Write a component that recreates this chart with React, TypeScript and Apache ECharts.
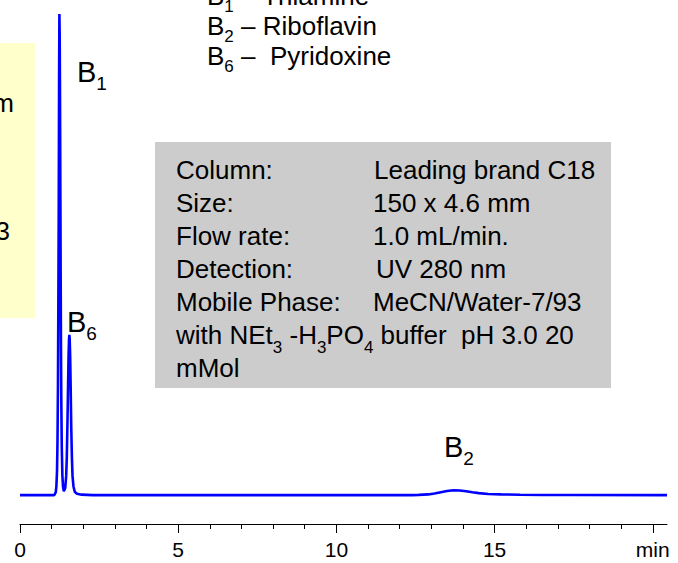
import React, { useEffect, useRef } from "react";
import * as echarts from "echarts";

// Chromatogram trace (time in min, detector signal, B1 peak = 100)
const timeMin = [
  0, 1.08, 1.1, 1.13, 1.15, 1.17, 1.185, 1.2, 1.215, 1.225, 1.235, 1.245, 1.255, 1.265, 1.275,
  1.285, 1.295, 1.305, 1.32, 1.34, 1.36, 1.385, 1.4, 1.43, 1.46, 1.48, 1.5, 1.52, 1.535, 1.55,
  1.56, 1.57, 1.585, 1.6, 1.62, 1.64, 1.66, 1.69, 1.73, 1.8, 1.95, 2.3, 12.4, 12.6, 12.9, 13.1,
  13.3, 13.5, 13.7, 13.9, 14.1, 14.3, 14.5, 14.8, 15.2, 15.8, 16.5, 17.5, 20.45,
];
const signal = [
  0, 0, 0.2, 0.6, 1.8, 5, 11, 23, 44, 60, 85, 100, 95, 82, 64,
  46, 31, 20, 10, 4, 1.8, 0.8, 0.7, 1.5, 4, 8, 15, 23, 29, 32.5,
  33.3, 32.5, 29, 23, 14, 8, 4, 1.8, 0.7, 0.3, 0.1, 0, 0, 0.05, 0.15, 0.35,
  0.6, 0.85, 1.0, 0.95, 0.8, 0.6, 0.42, 0.25, 0.15, 0.08, 0.04, 0.02, 0,
];
const majorTicks = [0, 5, 10, 15, 20];
const minorTicks = [1, 2, 3, 4, 6, 7, 8, 9, 11, 12, 13, 14, 16, 17, 18, 19];
const tickLabels = ["0", "5", "10", "15", "min"];

const legendLines = [
  { sym: "B", sub: "1", name: " – Thiamine" },
  { sym: "B", sub: "2", name: " – Riboflavin" },
  { sym: "B", sub: "6", name: " –  Pyridoxine" },
];
const conditionLabels = ["Column:", "Size:", "Flow rate:", "Detection:", "Mobile Phase:"];
const conditionValues = ["Leading brand C18", "150 x 4.6 mm", "1.0 mL/min.", "UV 280 nm", "MeCN/Water-7/93"];

const FONT = "'Liberation Sans', Arial, Helvetica, sans-serif";

export default function App() {
  const ref = useRef<HTMLDivElement>(null);
  useEffect(() => {
    if (!ref.current) return;
    const chart = echarts.init(ref.current, undefined, { renderer: "svg" });
    const data = timeMin.map((t, i) => [t, signal[i]]);

    const richBase = (mainSize: number, subSize: number, pad: number) => ({
      m: { fontSize: mainSize, fontFamily: FONT, fill: "#000" },
      s: { fontSize: subSize, fontFamily: FONT, fill: "#000", padding: [pad, 0, 0, 0] },
    });

    const legendCenters = [-4, 26, 56];
    const legendTexts = legendLines.map((l, i) => ({
      type: "text",
      x: 207,
      y: legendCenters[i],
      style: {
        text: `{m|${l.sym}}{s|${l.sub}}{m|${l.name}}`,
        rich: richBase(26, 17, 20),
        fill: "#000",
        verticalAlign: "middle",
        align: "left",
      },
    }));

    const rowCenters = [170, 203, 236, 269, 302, 335, 368];
    const valueX = [374, 373, 373, 376, 373];
    const condLabelTexts = conditionLabels.map((t, i) => ({
      type: "text",
      x: 176,
      y: rowCenters[i],
      style: { text: t, fontSize: 26, fontFamily: FONT, fill: "#000", verticalAlign: "middle", align: "left" },
    }));
    const condValueTexts = conditionValues.map((t, i) => ({
      type: "text",
      x: valueX[i],
      y: rowCenters[i],
      style: { text: t, fontSize: 26, fontFamily: FONT, fill: "#000", verticalAlign: "middle", align: "left" },
    }));

    const peakLabel = (x: number, y: number, sub: string) => ({
      type: "text",
      x,
      y,
      style: {
        text: `{m|B}{s|${sub}}`,
        rich: richBase(29, 19, 23),
        fill: "#000",
        verticalAlign: "middle",
        align: "left",
      },
    });

    chart.setOption({
      animation: false,
      backgroundColor: "#fff",
      grid: { left: 20, right: 11, top: 14, bottom: 39 },
      xAxis: [
        {
          type: "value",
          min: 0,
          max: 20.45,
          interval: 5,
          position: "bottom",
          splitLine: { show: false },
          axisLine: { show: true, onZero: false, lineStyle: { color: "#000", width: 1 } },
          axisTick: { show: true, customValues: majorTicks, length: 9, inside: false, lineStyle: { color: "#000", width: 1 } },
          axisLabel: {
            show: true,
            customValues: majorTicks,
            margin: 15,
            fontSize: 21,
            fontFamily: FONT,
            color: "#000",
            formatter: (v: number) => {
              const idx = majorTicks.indexOf(Math.round(v));
              return idx >= 0 ? tickLabels[idx] : "";
            },
          },
        },
        {
          type: "value",
          min: 0,
          max: 20.45,
          interval: 5,
          position: "bottom",
          offset: 0,
          splitLine: { show: false },
          axisLine: { show: false, onZero: false },
          axisTick: { show: true, customValues: minorTicks, length: 5, lineStyle: { color: "#000", width: 1 } },
          axisLabel: { show: false },
        },
      ],
      yAxis: { type: "value", min: -6, max: 100, show: false },
      series: [
        {
          type: "line",
          xAxisIndex: 0,
          data,
          showSymbol: false,
          symbol: "none",
          clip: false,
          lineStyle: { color: "#0000FF", width: 2.6 },
          z: 5,
        },
      ],
      graphic: [
        { type: "rect", shape: { x: -5, y: 43, width: 40, height: 275 }, style: { fill: "#FFFFCC" }, z: 0 },
        { type: "text", x: 14, y: 103, style: { text: "nm", fontSize: 26, fontFamily: FONT, fill: "#000", align: "right", verticalAlign: "middle" } },
        { type: "text", x: 10, y: 231, style: { text: "3", fontSize: 26, fontFamily: FONT, fill: "#000", align: "right", verticalAlign: "middle" } },
        { type: "rect", shape: { x: 155, y: 142, width: 456, height: 246 }, style: { fill: "#CCCCCC" }, z: 0 },
        ...condLabelTexts,
        ...condValueTexts,
        {
          type: "text",
          x: 176,
          y: rowCenters[5],
          style: {
            text: "{m|with NEt}{s|3}{m| -H}{s|3}{m|PO}{s|4}{m| buffer  pH 3.0 20}",
            rich: richBase(26, 17, 24),
            fill: "#000",
            verticalAlign: "middle",
            align: "left",
          },
        },
        {
          type: "text",
          x: 176,
          y: rowCenters[6],
          style: { text: "mMol", fontSize: 26, fontFamily: FONT, fill: "#000", verticalAlign: "middle", align: "left" },
        },
        ...legendTexts,
        peakLabel(77, 72, "1"),
        peakLabel(67, 322, "6"),
        peakLabel(444, 447, "2"),
      ],
    });
    return () => chart.dispose();
  }, []);
  return (
    <div
      ref={ref}
      style={{ position: "fixed", left: 0, top: 0, width: 678, height: 563, background: "#fff" }}
    />
  );
}
